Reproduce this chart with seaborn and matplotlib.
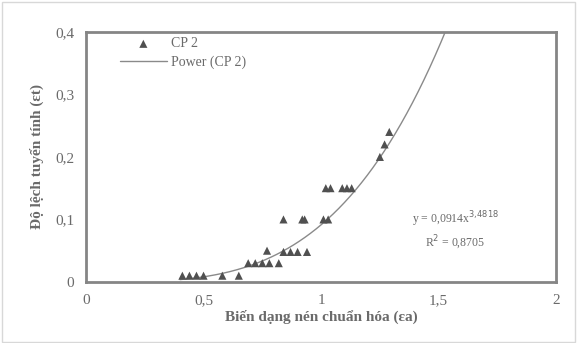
import numpy as np
import pandas as pd
import matplotlib
matplotlib.use("Agg")
import matplotlib.pyplot as plt
import seaborn as sns

# Data
x_vals = [0.41, 0.44, 0.47, 0.50, 0.58, 0.65,
          0.69, 0.72, 0.75, 0.78, 0.82,
          0.77, 0.84, 0.87, 0.90, 0.94,
          0.84, 0.92, 0.93, 1.01, 1.03,
          1.02, 1.04, 1.09, 1.11, 1.13,
          1.25, 1.27, 1.29]
y_vals = [0.01, 0.01, 0.01, 0.01, 0.01, 0.01,
          0.03, 0.03, 0.03, 0.03, 0.03,
          0.05, 0.048, 0.048, 0.048, 0.048,
          0.10, 0.10, 0.10, 0.10, 0.10,
          0.15, 0.15, 0.15, 0.15, 0.15,
          0.20, 0.22, 0.24]
fit_a = 0.0914
fit_b = 3.4818
x_ticks = [0, 0.5, 1, 1.5, 2]
x_tick_labels = ["0", "0,5", "1", "1,5", "2"]
y_ticks = [0, 0.1, 0.2, 0.3, 0.4]
y_tick_labels = ["0", "0,1", "0,2", "0,3", "0,4"]

sns.set_theme(style="white")
plt.rcParams['font.family'] = ['Liberation Serif', 'DejaVu Serif']

txt = "#6a6a6a"
fig = plt.figure(figsize=(5.77, 3.43), dpi=100)
ax = fig.add_axes([0.149, 0.178, 0.815, 0.729])

df = pd.DataFrame({"x": x_vals, "y": y_vals})
sns.scatterplot(data=df, x="x", y="y", marker="^", s=34, color="#505050",
                edgecolor="none", ax=ax, label="CP 2", zorder=3)

xf = np.linspace(0.4, 1.6, 200)
fit_df = pd.DataFrame({"x": xf, "y": fit_a * xf ** fit_b})
sns.lineplot(data=fit_df, x="x", y="y", color="#8a8a8a", lw=1.0, ax=ax,
             label="Power (CP 2)", zorder=2)

ax.set_xlim(0, 2)
ax.set_ylim(0, 0.4)
ax.set_xticks(x_ticks)
ax.set_xticklabels(x_tick_labels)
ax.set_yticks(y_ticks)
ax.set_yticklabels(y_tick_labels)
ax.tick_params(axis="both", direction="inout", length=5, width=1.2,
               color="#707070", labelcolor=txt, labelsize=11, pad=6)
for s in ax.spines.values():
    s.set_color("#858585")
    s.set_linewidth(2.0)

ax.set_xlabel("Biến dạng nén chuẩn hóa (εa)", fontsize=11, fontweight="bold",
              color=txt, labelpad=2)
ax.set_ylabel("Độ lệch tuyến tính (εt)", fontsize=11, fontweight="bold",
              color=txt, labelpad=8)

leg = ax.legend(loc="upper left", bbox_to_anchor=(0.06, 1.0), frameon=False,
                fontsize=10, handlelength=3.4, handletextpad=0.3,
                labelspacing=0.35, borderaxespad=0)
for t in leg.get_texts():
    t.set_color(txt)

ax.text(0.785, 0.205, "y = 0,0914x$^{3{,}4818}$\nR$^2$ = 0,8705",
        transform=ax.transAxes, ha="center", va="center", fontsize=8.5,
        color=txt, linespacing=1.3)

fig.patches.append(plt.Rectangle((0.003, 0.003), 0.994, 0.992,
                                 transform=fig.transFigure, fill=False,
                                 edgecolor="#d8d8d8", lw=1.0))
fig.savefig("out.png", dpi=100)
